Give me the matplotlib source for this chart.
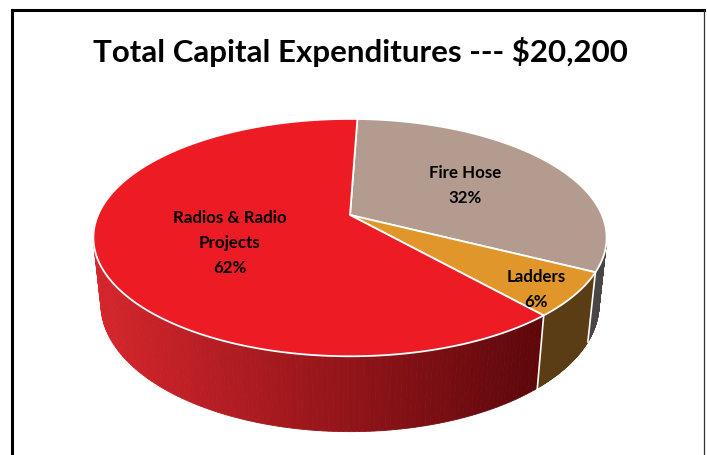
import numpy as np
import matplotlib.pyplot as plt
from matplotlib.patches import Polygon
from matplotlib.colors import to_rgb

# slices, clockwise from the top
labels = ["Fire Hose", "Ladders", "Radios & Radio\nProjects"]
shares = [32, 6, 62]
top_colors = ["#b49b90", "#e0962a", "#ed1c24"]
side_colors = ["#4a4545", "#5a3d14", None]   # None -> shaded gradient
title = "Total Capital Expenditures --- $20,200"

# view of the disk: tilt, camera distance, depth of the pie
tilt = np.radians(27.0)
dist = 4.68
height = 0.30
focal = 1179.0
cx, cy = 350.0, 215.0
start = 88.0


def project(a_deg, r=1.0, z=0.0):
    a = np.radians(np.asarray(a_deg, dtype=float))
    x = r * np.cos(a)
    y = r * np.sin(a)
    c, s = np.cos(tilt), np.sin(tilt)
    depth = dist + y * c - z * s
    sx = cx + focal * x / depth
    sy = cy - focal * (y * s + z * c) / depth
    return np.column_stack([sx, sy])


fig = plt.figure(figsize=(7.07, 4.55), dpi=100)
ax = fig.add_axes([0, 0, 1, 1])
ax.set_xlim(0, 707)
ax.set_ylim(455, 0)
ax.axis("off")

# chart frame
ax.plot([12, 12], [10, 460], color="black", lw=2.2, solid_capstyle="projecting")
ax.plot([12, 704], [10, 10], color="black", lw=2.2, solid_capstyle="projecting")
ax.plot([704, 704], [10, 460], color="#333333", lw=0.9)

bounds = start - 360 * np.cumsum([0] + shares) / sum(shares)

# visible part of the outer wall
lim = np.degrees(np.arcsin(1.0 / (dist * np.cos(tilt))))
vis_lo, vis_hi = -180 + lim, -lim

red_dark = np.array(to_rgb("#5c070b"))
red_light = np.array(to_rgb("#d6262c"))

for i in range(len(shares)):
    a_hi, a_lo = bounds[i], bounds[i + 1]
    lo, hi = max(a_lo, vis_lo), min(a_hi, vis_hi)
    if lo >= hi:
        continue
    angs = np.linspace(lo, hi, 120)
    top = project(angs)
    bot = project(angs, z=-height)
    for k in range(len(angs) - 1):
        quad = np.vstack([top[k], top[k + 1], bot[k + 1], bot[k]])
        if side_colors[i] is None:
            t = np.clip((quad[:, 0].mean() - 95) / (545 - 95), 0, 1)
            col = red_light * (1 - t) + red_dark * t
        else:
            col = side_colors[i]
        ax.add_patch(Polygon(quad, closed=True, facecolor=col,
                             edgecolor=col, lw=0.6))

# white seams where slices meet on the wall
for b in bounds:
    b = (b + 180) % 360 - 180
    if vis_lo < b < vis_hi:
        seg = np.vstack([project(b), project(b, z=-height)])
        ax.plot(seg[:, 0], seg[:, 1], color="white", lw=1.2)

# top faces
for i in range(len(shares)):
    angs = np.linspace(bounds[i], bounds[i + 1], 200)
    pts = np.vstack([project(0.0, r=0.0), project(angs)])
    ax.add_patch(Polygon(pts, closed=True, facecolor=top_colors[i],
                         edgecolor="white", lw=1.3, joinstyle="round"))

# data labels: radius and angle shift from the slice middle
label_r = [0.553, 0.876, 0.511]
label_shift = [-0.7, -3.4, 7.4]
for i in range(len(shares)):
    mid = (bounds[i] + bounds[i + 1]) / 2 + label_shift[i]
    px, py = project(mid, r=label_r[i])[0]
    ax.text(px, py, f"{labels[i]}\n{shares[i]}%", ha="center", va="center",
            fontsize=12.2, fontweight="bold", family="Lato",
            linespacing=1.7, color="black")

ax.text(360, 52, title, ha="center", va="center", fontsize=22.5,
        fontweight="bold", family="Lato", color="black")

fig.savefig("out.png", dpi=100)
